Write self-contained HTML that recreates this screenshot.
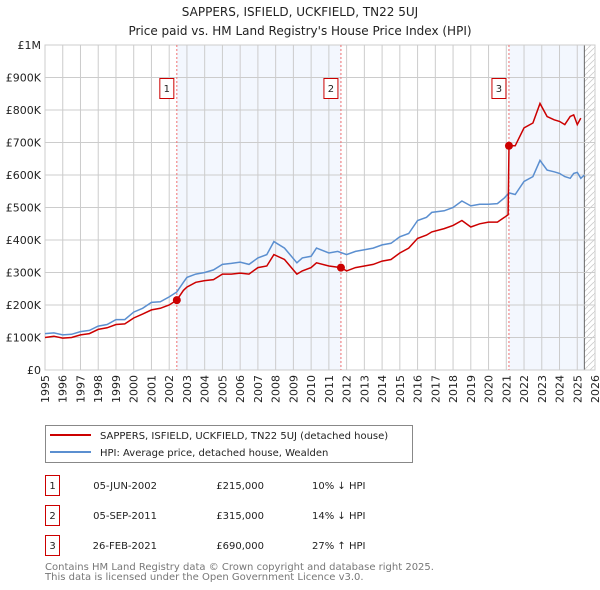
<!DOCTYPE html>
<html><head><meta charset="utf-8"><style>
body{margin:0;background:#fff;font-family:"DejaVu Sans","Liberation Sans",sans-serif;}
svg{display:block}
</style></head><body>
<svg id="c" width="600" height="590" xmlns="http://www.w3.org/2000/svg">
<text x="300" y="16" text-anchor="middle" font-size="12" fill="#222">SAPPERS, ISFIELD, UCKFIELD, TN22 5UJ</text>
<text x="300" y="35" text-anchor="middle" font-size="12" fill="#222">Price paid vs. HM Land Registry's House Price Index (HPI)</text>
<g id="plot"></g>
<g>
<rect x="45.5" y="425.5" width="367" height="37" fill="#fff" stroke="#888"/>
<line x1="50" y1="435" x2="91" y2="435" stroke="#cc0000" stroke-width="2"/>
<text x="100" y="439" font-size="10" fill="#222">SAPPERS, ISFIELD, UCKFIELD, TN22 5UJ (detached house)</text>
<line x1="50" y1="452" x2="91" y2="452" stroke="#5b8fd0" stroke-width="2"/>
<text x="100" y="456" font-size="10" fill="#222">HPI: Average price, detached house, Wealden</text>
</g>
<g font-size="10" fill="#222">
<g><rect x="45.5" y="475.5" width="14" height="20" fill="none" stroke="#cc0000"/><text x="52.5" y="489" text-anchor="middle">1</text><text x="157" y="489" text-anchor="end">05-JUN-2002</text><text x="264" y="489" text-anchor="end">£215,000</text><text x="312" y="489">10% ↓ HPI</text></g>
<g><rect x="45.5" y="505.5" width="14" height="20" fill="none" stroke="#cc0000"/><text x="52.5" y="519" text-anchor="middle">2</text><text x="157" y="519" text-anchor="end">05-SEP-2011</text><text x="264" y="519" text-anchor="end">£315,000</text><text x="312" y="519">14% ↓ HPI</text></g>
<g><rect x="45.5" y="535.5" width="14" height="20" fill="none" stroke="#cc0000"/><text x="52.5" y="549" text-anchor="middle">3</text><text x="157" y="549" text-anchor="end">26-FEB-2021</text><text x="264" y="549" text-anchor="end">£690,000</text><text x="312" y="549">27% ↑ HPI</text></g>
</g>
<text x="45" y="570" font-size="10" fill="#777">Contains HM Land Registry data © Crown copyright and database right 2025.</text>
<text x="45" y="580" font-size="10" fill="#777">This data is licensed under the Open Government Licence v3.0.</text>
</svg>
<script>
const yTicks=[0,100000,200000,300000,400000,500000,600000,700000,800000,900000,1000000];
const yLabels=["£0","£100K","£200K","£300K","£400K","£500K","£600K","£700K","£800K","£900K","£1M"];
const xYears=[1995,1996,1997,1998,1999,2000,2001,2002,2003,2004,2005,2006,2007,2008,2009,2010,2011,2012,2013,2014,2015,2016,2017,2018,2019,2020,2021,2022,2023,2024,2025,2026];
const hpiT=[1995,1995.5,1996,1996.5,1997,1997.5,1998,1998.5,1999,1999.5,2000,2000.5,2001,2001.5,2002,2002.43,2002.8,2003,2003.5,2004,2004.5,2005,2005.5,2006,2006.5,2007,2007.5,2007.9,2008.5,2009.2,2009.5,2010,2010.3,2011,2011.5,2012,2012.5,2013,2013.5,2014,2014.5,2015,2015.5,2016,2016.5,2016.8,2017.5,2018,2018.5,2019,2019.5,2020,2020.5,2020.9,2021.15,2021.5,2022,2022.5,2022.9,2023.3,2023.7,2024,2024.3,2024.6,2024.8,2025,2025.2,2025.4];
const hpiV=[112000,114000,108000,110000,118000,122000,135000,140000,155000,155000,178000,190000,208000,210000,225000,240000,270000,285000,295000,300000,308000,325000,328000,332000,325000,345000,355000,395000,375000,330000,345000,350000,375000,360000,365000,355000,365000,370000,375000,385000,390000,410000,420000,460000,470000,485000,490000,500000,520000,505000,510000,510000,512000,530000,545000,540000,580000,595000,645000,615000,610000,605000,595000,590000,605000,608000,590000,600000];
const ppT=[1995,1995.5,1996,1996.5,1997,1997.5,1998,1998.5,1999,1999.5,2000,2000.5,2001,2001.5,2002,2002.43,2002.8,2003,2003.5,2004,2004.5,2005,2005.5,2006,2006.5,2007,2007.5,2007.9,2008.5,2009.2,2009.5,2010,2010.3,2011,2011.68,2012,2012.5,2013,2013.5,2014,2014.5,2015,2015.5,2016,2016.5,2016.8,2017.5,2018,2018.5,2019,2019.5,2020,2020.5,2020.9,2021.1,2021.15,2021.5,2022,2022.5,2022.9,2023.3,2023.7,2024,2024.3,2024.6,2024.8,2025,2025.2,2025.4];
const ppV=[100000,104000,98000,100000,108000,112000,125000,130000,140000,142000,160000,172000,185000,190000,200000,215000,245000,255000,270000,275000,278000,295000,295000,298000,295000,315000,320000,355000,340000,295000,305000,315000,330000,320000,315000,305000,315000,320000,325000,335000,340000,360000,375000,405000,415000,425000,435000,445000,460000,440000,450000,455000,455000,470000,478000,690000,690000,745000,760000,820000,780000,770000,765000,755000,780000,785000,755000,775000];
const saleT=[2002.43,2011.68,2021.15];
const saleV=[215000,315000,690000];
const saleLabels=["1","2","3"];
const X0=45,X1=595,Y0=370,Y1=45;
const xs=t=>X0+(t-1995)/(2026-1995)*(X1-X0);
const ys=v=>Y0-v/1000000*(Y0-Y1);
const NS="http://www.w3.org/2000/svg";
const g=document.getElementById('plot');
function mk(tag,attrs,parent){const e=document.createElementNS(NS,tag);for(const k in attrs)e.setAttribute(k,attrs[k]);(parent||g).appendChild(e);return e;}
mk('rect',{x:X0,y:Y1,width:X1-X0,height:Y0-Y1,fill:'#fff'});
const sh1=mk('rect',{x:xs(saleT[0]),y:Y1,width:xs(saleT[1])-xs(saleT[0]),height:Y0-Y1,fill:'#f3f7fe'});


const sh2=mk('rect',{x:xs(saleT[2]),y:Y1,width:xs(2025.4)-xs(saleT[2]),height:Y0-Y1,fill:'#f3f7fe'});


const defs=mk('defs',{});
const pat=mk('pattern',{id:'hatch',width:6,height:6,patternUnits:'userSpaceOnUse'},defs);
mk('path',{d:'M0,6 L6,0',stroke:'#ccc','stroke-width':0.8},pat);
const ht=mk('rect',{x:xs(2025.4),y:Y1,width:X1-xs(2025.4),height:Y0-Y1,fill:'url(#hatch)'});


mk('line',{x1:xs(2025.4),y1:Y1,x2:xs(2025.4),y2:Y0,stroke:'#666','stroke-width':1});
xYears.forEach(y=>{mk('line',{x1:xs(y),y1:Y1,x2:xs(y),y2:Y0,stroke:'#ccc','stroke-width':1});
 const t=mk('text',{x:0,y:0,transform:`translate(${xs(y)+4},${Y0+5}) rotate(-90)`,'text-anchor':'end','font-size':11,fill:'#222'});t.textContent=y;
 
 });
yTicks.forEach((v,i)=>{mk('line',{x1:X0,y1:ys(v),x2:X1,y2:ys(v),stroke:'#ccc','stroke-width':1});
 const t=mk('text',{x:X0-4,y:ys(v)+4,'text-anchor':'end','font-size':11,fill:'#222'});t.textContent=yLabels[i];
 
 });
mk('rect',{x:X0,y:Y1,width:X1-X0,height:Y0-Y1,fill:'none',stroke:'#ccc'});
saleT.forEach((t,i)=>{const l=mk('line',{x1:xs(t),y1:Y1,x2:xs(t),y2:Y0,stroke:'#f07070','stroke-dasharray':'2,2','stroke-width':1});
 
 
 const bx=xs(t)-10;
 const r=mk('rect',{x:bx-7,y:78.5,width:14,height:20,fill:'#fff',stroke:'#cc0000'});
 
 
 const tx=mk('text',{x:bx,y:92,'text-anchor':'middle','font-size':10,fill:'#222'});tx.textContent=saleLabels[i];});
const pth=(T,V)=>T.map((t,i)=>(i?'L':'M')+xs(t).toFixed(1)+','+ys(V[i]).toFixed(1)).join(' ');
const hl=mk('path',{d:pth(hpiT,hpiV),fill:'none',stroke:'#5b8fd0','stroke-width':1.5});


const pl=mk('path',{d:pth(ppT,ppV),fill:'none',stroke:'#cc0000','stroke-width':1.5});


saleT.forEach((t,i)=>{const c=mk('circle',{cx:xs(t),cy:ys(saleV[i]),r:4,fill:'#cc0000'});
 
 });
</script>
</body></html>
